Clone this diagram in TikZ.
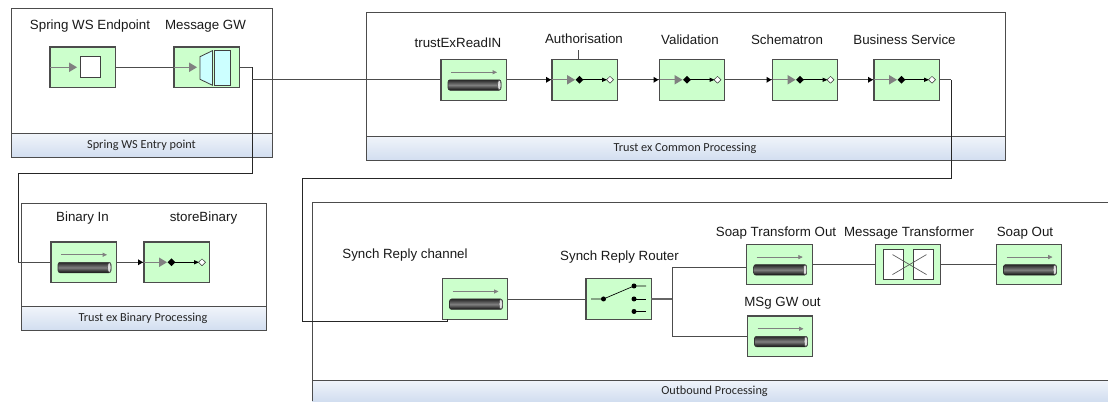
\documentclass[tikz,border=0pt]{standalone}
\usepackage{fontspec}
\setmainfont{Liberation Sans}
\newfontfamily\bandfont{Carlito}
\usetikzlibrary{arrows.meta,calc}
\definecolor{eipgreen}{RGB}{204,255,204}
\definecolor{arrowg}{RGB}{128,128,128}
\definecolor{bandtop}{RGB}{240,244,250}
\definecolor{bandbot}{RGB}{210,222,240}
\definecolor{gwcyan}{RGB}{204,255,255}
\tikzset{
 x=0.75pt,y=-0.75pt,
 eip/.style={draw=black!70,line width=0.8pt,fill=eipgreen,minimum width=49pt,minimum height=30.4pt,inner sep=0pt,outer sep=0pt,anchor=north west},
 lbl/.style={font=\fontsize{10}{12}\selectfont,text=black!90,inner sep=0pt,anchor=center},
 bandtxt/.style={font=\bandfont\fontsize{9.2}{11}\selectfont,text=black!85,inner sep=0pt},
 conn/.style={draw=black!70,line width=0.7pt},
 wire/.style={draw=black!85,line width=0.6pt},
 frame/.style={draw=black!70,line width=0.65pt},
 pipearrow/.style={draw=arrowg,line width=0.45pt,-{Triangle[length=3.2pt,width=3pt]}},
}
\newcommand{\chanicon}[1]{%
 \draw[draw=black!80,line width=0.4pt,rounded corners=1.6pt,top color=black!85,bottom color=black!95,middle color=black!50] ($(#1.west)+(7,0)$) rectangle ($(#1.west)+(60,10.5)$);
 \draw[draw=black!70,line width=0.35pt,fill=black!12] ($(#1.west)+(58.3,5.25)$) ellipse[x radius=1.7,y radius=5];
 \draw[pipearrow] ($(#1.west)+(10,-7.5)$) -- ($(#1.west)+(56,-7.5)$);
}
\newcommand{\filtericon}[1]{%
 \draw[draw=arrowg,line width=0.6pt] (#1.west) -- ++(18,0);
 \fill[arrowg] ($(#1.west)+(15,-4.8)$) -- ($(#1.west)+(23,0)$) -- ($(#1.west)+(15,4.8)$) -- cycle;
 \draw[black,line width=0.5pt] ($(#1.west)+(27,0)$) -- ($(#1.west)+(52,0)$);
 \fill[black] ($(#1.west)+(23.5,0)$) -- ($(#1.west)+(27.5,-3.8)$) -- ($(#1.west)+(31.5,0)$) -- ($(#1.west)+(27.5,3.8)$) -- cycle;
 \fill[black] ($(#1.west)+(50,-2.2)$) -- ($(#1.west)+(55,0)$) -- ($(#1.west)+(50,2.2)$) -- cycle;
 \draw[black!80,fill=white,line width=0.35pt] ($(#1.west)+(54.5,0)$) -- ($(#1.west)+(58,-3.4)$) -- ($(#1.west)+(61.5,0)$) -- ($(#1.west)+(58,3.4)$) -- cycle;
}
\newcommand{\inlet}[1]{%
 \fill[black] ($(#1.west)+(-6,-3)$) -- ($(#1.west)+(-1,0)$) -- ($(#1.west)+(-6,3)$) -- cycle;
}
\begin{document}
\begin{tikzpicture}
\useasboundingbox (0,0) rectangle (1108,401);
% containers
\shade[top color=bandtop,bottom color=bandbot] (11,133.5) rectangle (272,157);
\draw[frame] (11,8) rectangle (272,157) (11,133.5) -- (272,133.5);
\node[bandtxt] (b1) at (141.5,145.5) {Spring WS Entry point};
\shade[top color=bandtop,bottom color=bandbot] (21.5,307) rectangle (266,330);
\draw[frame] (21.5,203) rectangle (266,330) (21.5,306.5) -- (266,306.5);
\node[bandtxt] (b2) at (143,318.5) {Trust ex Binary  Processing};
\shade[top color=bandtop,bottom color=bandbot] (366,136) rectangle (1005,160.5);
\draw[frame] (366,12) rectangle (1005,160.5) (366,136) -- (1005,136);
\node[bandtxt] (b3) at (685,148.5) {Trust ex Common Processing};
\shade[top color=bandtop,bottom color=bandbot] (312,380) rectangle (1108,401);
\draw[frame] (312,401) -- (312,202) -- (1108,202) (312,380) -- (1108,380);
\node[bandtxt] (b4) at (714.5,391.7) {Outbound Processing};
% nodes
\node[eip] (ep) at (50,47) {};
\node[eip] (gw) at (174,47) {};
\node[eip] (bin) at (51,242) {};
\node[eip] (sb) at (144,242) {};
\node[eip] (tr) at (441,59.5) {};
\node[eip] (au) at (552,59.5) {};
\node[eip] (va) at (659.5,59.5) {};
\node[eip] (sc) at (772.5,59.5) {};
\node[eip] (bs) at (874,59.5) {};
\node[eip] (sy) at (442.5,278.7) {};
\node[eip] (ro) at (586,278.7) {};
\node[eip] (st) at (746.7,244.3) {};
\node[eip] (mt) at (875.5,244.3) {};
\node[eip] (so) at (996.5,244.3) {};
\node[eip] (ms) at (747.5,316) {};
% labels
\node[lbl] (l1) at (90,26.5) {Spring WS Endpoint};
\node[lbl] (l2) at (205.5,26.5) {Message GW};
\node[lbl] (l3) at (82.5,218.5) {Binary In};
\node[lbl] (l4) at (203.5,218.5) {storeBinary};
\node[lbl] (l5) at (458,43) {trustExReadIN};
\node[lbl] (l6) at (584,38.5) {Authorisation};
\node[lbl] (l7) at (690,40) {Validation};
\node[lbl] (l8) at (787,40) {Schematron};
\node[lbl] (l9) at (904.5,40) {Business Service};
\node[lbl] (l10) at (405,255) {Synch Reply channel};
\node[lbl] (l11) at (619.5,257) {Synch Reply Router};
\node[lbl] (l12) at (776,233) {Soap Transform Out};
\node[lbl] (l13) at (909,233) {Message Transformer};
\node[lbl] (l14) at (1025,233) {Soap Out};
\node[lbl] (l15) at (782.5,303) {MSg GW out};
% junctions
\coordinate (j1) at (252,0);
\coordinate (j2) at (252,173);
\coordinate (j3) at (18,173);
\coordinate (j4) at (18,0);
\coordinate (j6) at (951,0);
\coordinate (j7) at (951,178);
\coordinate (j8) at (302,178);
\coordinate (j9) at (302,321);
\coordinate (j10) at (447,321);
\coordinate (j11) at (672,0);
\coordinate (j12) at (672,267);
\coordinate (j13) at (672,336);
\coordinate (j14) at (578,50);
% connectors
\draw[conn] (ep.east) -- (gw.west);
\draw[conn] (gw.east) -- (gw.east -| j1);
\draw[wire] (gw.east -| j1) -- (j2) -- (j3) -- (bin.west -| j4);
\draw[conn] (bin.west -| j4) -- (bin.west);
\draw[conn] (tr.west -| j1) -- (tr.west);
\draw[conn] (bin.east) -- (sb.west);
\draw[conn] (tr.east) -- (au.west);
\draw[conn] (au.east) -- (va.west);
\draw[conn] (va.east) -- (sc.west);
\draw[conn] (sc.east) -- (bs.west);
\draw[conn] (bs.east) -- (bs.east -| j6);
\draw[wire] (bs.east -| j6) -- (j7) -- (j8) -- (j9) -- (j10) -- (sy.south -| j10);
\draw[conn] (sy.east) -- (ro.west);
\draw[draw=black!60,line width=1.5pt] (ro.east) -- (ro.east -| j11);
\draw[conn] (j12) -- (j13);
\draw[conn] (j12) -- (j12 -| st.west);
\draw[conn] (j13) -- (j13 -| ms.west);
\draw[conn] (st.east) -- (mt.west);
\draw[conn] (mt.east) -- (so.west);
\draw[conn] (j14 |- au.north) -- (j14);
% icons
\draw[arrowg,line width=0.6pt] (ep.west) -- ++(20,0);
\fill[arrowg] ($(ep.west)+(19,-4.8)$) -- ($(ep.west)+(27,0)$) -- ($(ep.west)+(19,4.8)$) -- cycle;
\draw[black!75,fill=white,line width=0.6pt] ($(ep.west)+(30,-10.5)$) rectangle ($(ep.west)+(50.5,10.5)$);
\draw[arrowg,line width=0.6pt] (gw.west) -- ++(18,0);
\fill[arrowg] ($(gw.west)+(15,-4.8)$) -- ($(gw.west)+(23,0)$) -- ($(gw.west)+(15,4.8)$) -- cycle;
\draw[black!75,fill=gwcyan,line width=0.6pt] ($(gw.west)+(26,-10.6)$) -- ($(gw.west)+(38.5,-16.6)$) -- ($(gw.west)+(38.5,18)$) -- ($(gw.west)+(26,12)$) -- cycle;
\draw[black!75,fill=gwcyan,line width=0.6pt] ($(gw.west)+(40.7,-17.3)$) rectangle ($(gw.west)+(56,18.2)$);
\chanicon{bin}\chanicon{tr}\chanicon{sy}\chanicon{st}\chanicon{so}\chanicon{ms}
\filtericon{sb}\filtericon{au}\filtericon{va}\filtericon{sc}\filtericon{bs}
\inlet{sb}\inlet{au}\inlet{va}\inlet{sc}\inlet{bs}
% router icon
\draw[black,line width=0.5pt] ($(ro.west)+(5,0)$) -- ($(ro.west)+(17.5,0)$) -- ($(ro.west)+(48,-13)$) -- ($(ro.west)+(60,-13)$);
\draw[black,line width=0.5pt] ($(ro.west)+(48,0)$) -- ($(ro.west)+(60,0)$);
\draw[black,line width=0.5pt] ($(ro.west)+(48,12.5)$) -- ($(ro.west)+(60,12.5)$);
\fill[black] ($(ro.west)+(17.5,0)$) circle[radius=2.5];
\fill[black] ($(ro.west)+(48,-13)$) circle[radius=2.5];
\fill[black] ($(ro.west)+(48,0)$) circle[radius=2.5];
\fill[black] ($(ro.west)+(48,12.5)$) circle[radius=2.5];
% transformer icon
\draw[black!75,fill=white,line width=0.6pt] ($(mt.west)+(7.5,-15)$) rectangle ($(mt.west)+(28,15)$);
\draw[black!75,fill=white,line width=0.6pt] ($(mt.west)+(37.5,-15)$) rectangle ($(mt.west)+(58,15)$);
\draw[black!65,line width=0.5pt] ($(mt.west)+(17,-10)$) -- ($(mt.west)+(51,10)$);
\draw[black!65,line width=0.5pt] ($(mt.west)+(17,10)$) -- ($(mt.west)+(51,-10)$);
\end{tikzpicture}
\end{document}
